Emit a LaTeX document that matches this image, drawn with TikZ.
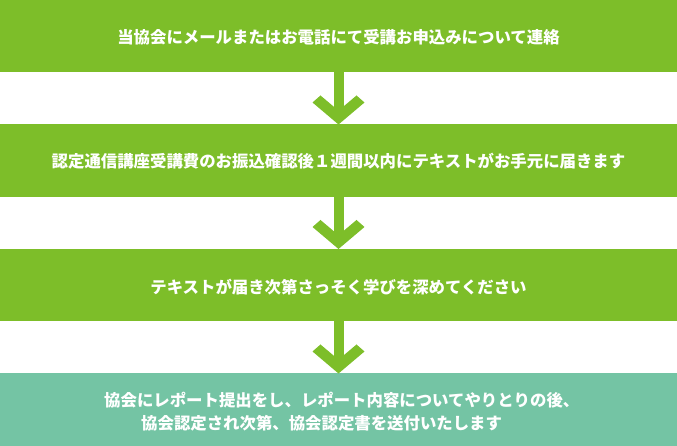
\documentclass[tikz,border=0pt]{standalone}
\usepackage{fontspec}
\newfontfamily\jpfont{Noto Sans CJK JP}
\usetikzlibrary{positioning}
\newcommand{\BW}{677pt}
\newcommand{\BH}{72.5pt}
\newcommand{\GAP}{52pt}
\definecolor{flgreen}{RGB}{125,190,41}
\definecolor{flteal}{RGB}{116,196,164}

\begin{document}
\begin{tikzpicture}[
    x=1pt, y=1pt,
    stepbox/.style={rectangle, minimum width=\BW, minimum height=\BH, inner sep=0pt, outer sep=0pt, text=white},
    txt/.style={text=white, inner sep=0pt, font=\jpfont\bfseries\fontsize{16.4pt}{20pt}\selectfont},
    shaft/.style={draw=flgreen, line width=10pt, line cap=butt},
    chev/.style={fill=flgreen},
  ]
  \useasboundingbox (0,0) rectangle (677,446);

  %% the four steps, top to bottom
  \node[stepbox, fill=flgreen] (s1) at (338.5,409.75) {};
  \node[stepbox, fill=flgreen, below=\GAP of s1] (s2) {};
  \node[stepbox, fill=flgreen, below=\GAP of s2] (s3) {};
  \node[stepbox, fill=flteal,  below=\GAP of s3] (s4) {};

  \node[txt] (t1) at ([yshift=-1.2pt]s1.center) {当協会にメールまたはお電話にて受講お申込みについて連絡};
  \node[txt] (t2) at (s2.center) {認定通信講座受講費のお振込確認後１週間以内にテキストがお手元に届きます};
  \node[txt] (t3) at ([yshift=-1.5pt]s3.center) {テキストが届き次第さっそく学びを深めてください};
  % the last box has two lines, the second one sits a little to the left
  \node[txt, anchor=west] (t4a) at (104,46) {協会にレポート提出をし、レポート内容についてやりとりの後、};
  \node[txt, anchor=west] (t4b) at (141,22.5) {協会認定され次第、協会認定書を送付いたします};

  %% down arrows between the steps
  \foreach \a/\b in {s1/s2, s2/s3, s3/s4} {
    \draw[shaft] (\a.south) -- ([yshift=12pt]\b.north);
    \fill[chev] ([xshift=-26pt,yshift=22pt]\b.north) -- (\b.north)
      -- ([xshift=26pt,yshift=22pt]\b.north) -- ([xshift=18pt,yshift=29pt]\b.north)
      -- ([yshift=13.8pt]\b.north) -- ([xshift=-18pt,yshift=29pt]\b.north) -- cycle;
  }

\end{tikzpicture}
\end{document}
